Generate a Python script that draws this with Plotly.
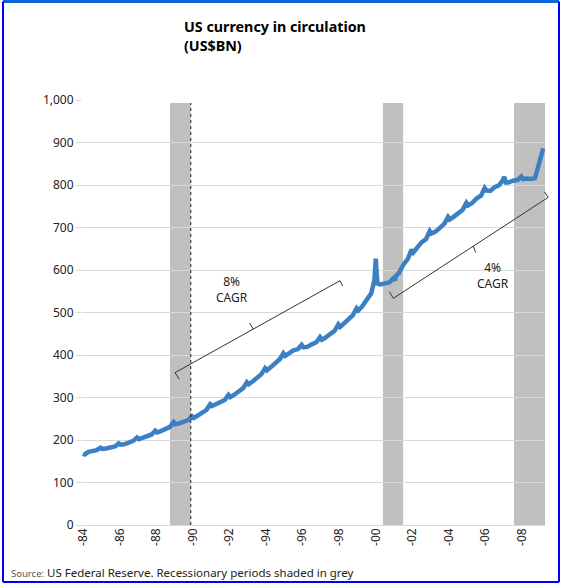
import plotly.graph_objects as go

# ---- data (decimal year, US$BN) ----
years = [1984.0, 1984.1, 1984.3, 1984.5, 1984.75, 1984.95, 1985.05, 1985.25, 1985.5, 1985.75,
         1985.95, 1986.05, 1986.25, 1986.5, 1986.75, 1986.95, 1987.05, 1987.25, 1987.5, 1987.75,
         1987.95, 1988.05, 1988.25, 1988.5, 1988.75, 1988.95, 1989.05, 1989.25, 1989.5, 1989.75,
         1989.95, 1990.05, 1990.25, 1990.5, 1990.75, 1990.95, 1991.05, 1991.25, 1991.5, 1991.75,
         1991.95, 1992.05, 1992.25, 1992.5, 1992.75, 1992.95, 1993.05, 1993.25, 1993.5, 1993.75,
         1993.95, 1994.05, 1994.25, 1994.5, 1994.75, 1994.95, 1995.05, 1995.25, 1995.5, 1995.75,
         1995.95, 1996.05, 1996.25, 1996.5, 1996.75, 1996.95, 1997.05, 1997.25, 1997.5, 1997.75,
         1997.95, 1998.05, 1998.25, 1998.5, 1998.75, 1998.95, 1999.05, 1999.25, 1999.5, 1999.75,
         1999.92, 2000.0, 2000.05, 2000.1, 2000.25, 2000.5, 2000.75,
         2000.95, 2001.05, 2001.1, 2001.25, 2001.5, 2001.75, 2001.95, 2002.05, 2002.25, 2002.5, 2002.75,
         2002.95, 2003.05, 2003.25, 2003.5, 2003.75, 2003.95, 2004.05, 2004.25, 2004.5, 2004.75,
         2004.95, 2005.05, 2005.25, 2005.5, 2005.75, 2005.95, 2006.05, 2006.25, 2006.5, 2006.75,
         2006.95, 2007.02, 2007.1, 2007.25, 2007.5, 2007.75, 2007.95, 2008.05, 2008.25, 2008.5,
         2008.7, 2008.8, 2008.9, 2009.0, 2009.1, 2009.15]
currency = [168, 166, 172, 175, 176, 182, 179, 180, 183, 185,
            192, 189, 190, 195, 198, 206, 202, 205, 210, 213,
            222, 218, 221, 227, 231, 242, 237, 239, 243, 247,
            256, 252, 257, 263, 271, 284, 280, 284, 289, 294,
            306, 301, 306, 314, 322, 336, 331, 337, 346, 355,
            369, 364, 371, 381, 390, 404, 398, 404, 411, 414,
            424, 418, 419, 425, 430, 442, 436, 441, 450, 457,
            472, 466, 474, 484, 494, 510, 505, 514, 528, 545,
            575, 627, 590, 568, 566, 568, 571,
            580, 576, 586, 592, 612, 626, 648, 641, 652, 665, 673,
            692, 686, 690, 699, 709, 725, 719, 725, 735, 742,
            758, 752, 757, 768, 775, 793, 787, 786, 795, 800,
            812, 819, 806, 806, 810, 812, 820, 814, 815, 814,
            816, 830, 845, 860, 878, 886]

tick_years = [1984, 1986, 1988, 1990, 1992, 1994, 1996, 1998, 2000, 2002, 2004, 2006, 2008]
tick_labels = ["-84", "-86", "-88", "-90", "-92", "-94", "-96", "-98", "-00", "-02", "-04", "-06", "-08"]

recession_start = [1988.75, 2000.39, 2007.55]
recession_end = [1989.89, 2001.49, 2009.25]
shade_top = 993

FONT = "Noto Sans"

fig = go.Figure()
fig.add_trace(go.Scatter(x=years, y=currency, mode="lines",
                         line=dict(color="#3b80c3", width=4.5), showlegend=False,
                         hoverinfo="skip"))

shapes = []
for s, e in zip(recession_start, recession_end):
    shapes.append(dict(type="rect", xref="x", yref="y", x0=s, x1=e, y0=0, y1=shade_top,
                       fillcolor="#c0c0c0", line=dict(width=0), layer="below"))
# dotted line at end of first recession
shapes.append(dict(type="line", xref="x", yref="y", x0=recession_end[0], x1=recession_end[0],
                   y0=0, y1=shade_top, line=dict(color="#222222", width=1, dash="dot"),
                   layer="above"))

def bracket(a, b, at, bt, m, mt):
    out = []
    for p, q in [(a, b), (a, at), (b, bt), (m, mt)]:
        out.append(dict(type="line", xref="paper", yref="paper", x0=p[0], y0=p[1],
                        x1=q[0], y1=q[1], line=dict(color="#333333", width=1)))
    return out

# 8% CAGR bracket
shapes += bracket((0.2009, 0.3584), (0.5572, 0.5748), (0.2102, 0.3428), (0.5631, 0.5624),
                  (0.3700, 0.4607), (0.3620, 0.4753))
# 4% CAGR bracket
shapes += bracket((0.6724, 0.5334), (1.0071, 0.7711), (0.6637, 0.5489), (0.9985, 0.7842),
                  (0.8451, 0.6560), (0.8503, 0.6412))

# frame
L, R, T, B = (3 - 82) / 463, (559 - 82) / 463, (525 - 1.5) / 425, (525 - 582) / 425
shapes.append(dict(type="line", xref="paper", yref="paper", x0=L, x1=R, y0=T, y1=T,
                   line=dict(color="#0f66d8", width=3)))
shapes.append(dict(type="line", xref="paper", yref="paper", x0=L, x1=L, y0=B, y1=T,
                   line=dict(color="#0000ff", width=2)))
shapes.append(dict(type="line", xref="paper", yref="paper", x0=R, x1=R, y0=B, y1=T,
                   line=dict(color="#0000ff", width=2)))
shapes.append(dict(type="line", xref="paper", yref="paper", x0=L, x1=R, y0=B, y1=B,
                   line=dict(color="#0000ff", width=2)))

annotations = [
    dict(text="<b>US currency in circulation<br>(US$BN)</b>", xref="paper", yref="paper",
         x=(182 - 82) / 463, y=(525 - 36) / 425, xanchor="left", yanchor="middle",
         align="left", showarrow=False, font=dict(family=FONT, size=14.3, color="#000000")),
    dict(text="8%<br>CAGR", xref="paper", yref="paper", x=0.3233, y=0.553,
         xanchor="center", yanchor="middle", showarrow=False,
         font=dict(family=FONT, size=12, color="#222222")),
    dict(text="4%<br>CAGR", xref="paper", yref="paper", x=0.8883, y=0.5859,
         xanchor="center", yanchor="middle", showarrow=False,
         font=dict(family=FONT, size=12, color="#222222")),
    dict(text="<span style='font-size:9.5px;color:#555'>Source:</span> US Federal Reserve. Recessionary periods shaded in grey",
         xref="paper", yref="paper", x=(9 - 82) / 463, y=(525 - 572) / 425,
         xanchor="left", yanchor="middle", showarrow=False,
         font=dict(family=FONT, size=11.5, color="#222222")),
]

fig.update_layout(
    width=564, height=584,
    margin=dict(l=82, r=19, t=100, b=59),
    paper_bgcolor="white", plot_bgcolor="white",
    shapes=shapes, annotations=annotations,
    font=dict(family=FONT, size=12, color="#222222"),
    xaxis=dict(range=[1983.945, 2009.246], tickmode="array", tickvals=tick_years,
               ticktext=tick_labels, tickangle=-90, showgrid=False, zeroline=False,
               showline=False, ticks="", tickfont=dict(size=12, color="#222222")),
    yaxis=dict(range=[0, 1000], tickmode="linear", tick0=0, dtick=100, tickformat=",",
               showgrid=True, gridcolor="#d9d9d9", gridwidth=1, zeroline=True,
               zerolinecolor="#d9d9d9", zerolinewidth=1, ticks="outside", ticklen=5,
               tickcolor="#d9d9d9", showline=False, tickfont=dict(size=12, color="#222222")),
)

fig.write_html("out.html", config={"displayModeBar": False},
               post_script="document.body.style.margin='0';")
